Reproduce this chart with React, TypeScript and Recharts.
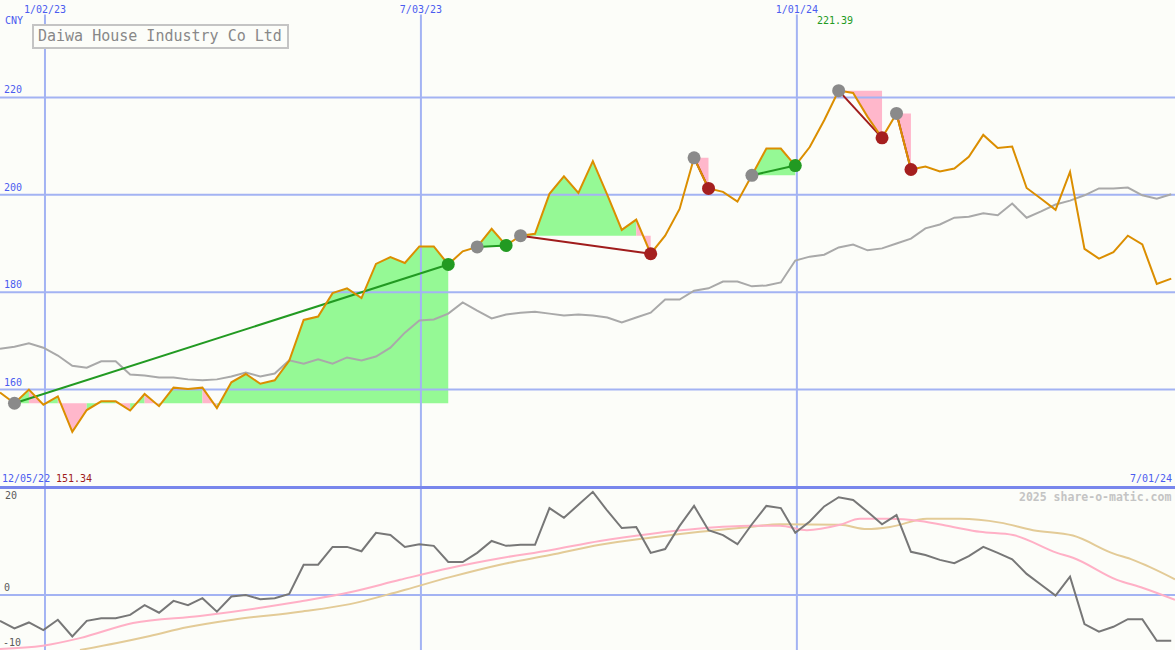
import { Area, ComposedChart, Line, ReferenceLine, XAxis, YAxis } from "recharts";

// weekly closes, index 0 = first week on the chart (w/c 12/05/22)
const price = [
  159.4, 157.2, 160.0, 156.9, 158.6, 151.34, 155.8, 157.6, 157.6, 155.7,
  159.1, 156.6, 160.4, 160.1, 160.4, 156.2, 161.5, 163.2, 161.2, 161.9,
  165.9, 174.3, 175.0, 179.8, 180.8, 178.8, 185.8, 187.2, 186.0, 189.4,
  189.4, 185.7, 188.4, 189.3, 193.0, 189.6, 191.6, 192.0, 200.2, 203.8,
  200.4, 206.9, 200.0, 192.8, 194.9, 187.9, 191.6, 197.1, 207.6, 201.3,
  200.6, 198.6, 204.0, 209.5, 209.5, 206.0, 209.8, 215.3, 221.39, 220.9,
  216.0, 211.7, 216.7, 205.2, 205.8, 204.8, 205.4, 207.8, 212.3, 209.6,
  209.9, 201.4, 199.2, 196.9, 204.7, 188.9, 186.9, 188.2, 191.6, 189.8,
  181.7, 182.8,
];

// slow grey line
const avg = [
  168.4, 168.8, 169.5, 168.6, 167.0, 164.9, 164.5, 165.8, 165.8, 163.1,
  162.9, 162.5, 162.5, 162.1, 161.9, 162.1, 162.7, 163.5, 162.7, 163.3,
  166.0, 165.3, 166.2, 165.3, 166.6, 166.0, 166.8, 168.6, 171.7, 174.2,
  174.4, 175.6, 177.9, 176.2, 174.6, 175.4, 175.8, 176.0, 175.6, 175.2,
  175.4, 175.2, 174.8, 173.8, 174.8, 175.8, 178.5, 178.5, 180.3, 180.8,
  182.2, 182.2, 181.2, 181.4, 182.0, 186.5, 187.3, 187.7, 189.2, 189.8,
  188.6, 189.0, 190.0, 191.0, 193.1, 193.9, 195.3, 195.5, 196.2, 195.8,
  198.2, 195.3, 196.6, 198.0, 198.8, 199.9, 201.3, 201.3, 201.5, 199.9,
  199.2, 200.1,
];

// lower panel oscillator
const osc = [
  -4.8, -6.2, -5.1, -6.5, -4.6, -7.7, -4.8, -4.3, -4.3, -3.7,
  -1.9, -3.3, -1.1, -1.9, -0.6, -3.1, -0.3, 0.0, -0.8, -0.6,
  0.2, 5.6, 5.6, 8.9, 8.9, 8.1, 11.5, 11.1, 8.9, 9.4,
  9.1, 6.1, 6.1, 7.8, 10.0, 9.1, 9.3, 9.3, 16.1, 14.3,
  16.7, 19.1, 15.6, 12.4, 12.6, 7.8, 8.5, 12.8, 16.5, 12.0,
  11.1, 9.4, 13.1, 16.5, 16.1, 11.5, 13.6, 16.4, 18.1, 17.6,
  15.4, 13.1, 14.8, 8.0, 7.4, 6.5, 5.9, 7.2, 8.9, 7.8,
  6.6, 3.9, 1.9, -0.1, 3.4, -5.4, -6.8, -5.9, -4.5, -4.5,
  -8.5, -8.5,
];

// smoothed lines, read at selected weeks
const pinkWeek = [0, 2.97, 5.53, 9.2, 13.83, 18.46, 20.75, 24.2, 27.66, 31.12, 34.58, 38.04, 41.49, 44.95, 48.41, 51.87, 53.94, 55.8, 58.09, 59.47, 61.55, 63.62, 65.91, 67.77, 70.06, 73.1, 74.2, 77.25, 79.05, 81.26];
const pinkVal = [-10.0, -9.4, -8.0, -5.2, -3.9, -2.2, -1.2, 0.5, 2.8, 5.0, 6.8, 8.3, 10.0, 11.3, 12.3, 12.8, 12.8, 12.0, 13.0, 14.1, 14.1, 13.7, 12.6, 11.7, 11.1, 7.8, 6.9, 2.8, 1.3, -0.9];
const tanWeek = [5.53, 8.09, 10.37, 12.93, 16.11, 20.75, 24.2, 27.66, 31.12, 34.58, 38.04, 41.49, 44.95, 48.41, 51.87, 53.94, 58.09, 59.96, 61.55, 64.11, 66.39, 69.16, 71.44, 74.2, 76.97, 78.35, 81.26];
const tanVal = [-10.2, -8.9, -7.6, -6.0, -4.6, -3.1, -1.7, 0.7, 3.3, 5.6, 7.4, 9.3, 10.6, 11.7, 12.6, 13.1, 13.0, 12.2, 12.6, 14.1, 14.1, 13.4, 12.0, 11.0, 7.7, 6.5, 2.9];

// trend swings: start week -> end week
const trendFrom = [1, 33, 36, 48, 52, 58, 62];
const trendTo = [31, 35, 45, 49, 55, 61, 63];

const dateWeek = [3.11, 29.11, 55.11];
const dateLabel = ["1/02/23", "7/03/23", "1/01/24"];
const priceTicks = [160, 180, 200, 220];

const W = 1175;
const TOP_H = 487;
const LOW_H = 163;
const X_DOMAIN: [number, number] = [0, 81.26];
const BG = "#fcfdf9";
const GRID = "#a3b3f3";
const BLUE_TEXT = "#4b5cf0";
const MONO = "'DejaVu Sans Mono', monospace";
const GREEN_FILL = "#95f995";
const PINK_FILL = "#ffb7cb";

const rows = price.map((p, i) => ({ x: i, price: p, avg: avg[i], osc: osc[i] }));
const pinkRows = pinkWeek.map((x, i) => ({ x, v: pinkVal[i] }));
const tanRows = tanWeek.map((x, i) => ({ x, v: tanVal[i] }));

// fill between the price and the level where the swing started;
// each week-to-week piece is green if it ends above that level, pink if below
type Run = { color: string; pts: { x: number; band: [number, number] }[] };
const runs: Run[] = [];
trendFrom.forEach((s, t) => {
  const base = price[s];
  let cur: Run | null = null;
  for (let k = s; k < trendTo[t]; k++) {
    const color = price[k + 1] >= base ? GREEN_FILL : PINK_FILL;
    if (!cur || cur.color !== color) {
      cur = { color, pts: [{ x: k, band: [base, price[k]] }] };
      runs.push(cur);
    }
    cur.pts.push({ x: k + 1, band: [base, price[k + 1]] });
  }
});

const startPts = trendFrom.map(s => ({ x: s, price: price[s] }));
const upEnds = trendTo.filter((e, t) => price[e] >= price[trendFrom[t]]).map(e => ({ x: e, price: price[e] }));
const downEnds = trendTo.filter((e, t) => price[e] < price[trendFrom[t]]).map(e => ({ x: e, price: price[e] }));

const blob = (fill: string) => (p: any) => (
  <circle key={`${fill}-${p.index}`} cx={p.cx} cy={p.cy} r={6.5} fill={fill} stroke="none" />
);

const tickLabel = (value: string, position: string, offset: number, fill = BLUE_TEXT) => ({
  value, position, offset, fill, fontSize: 10, fontFamily: MONO,
});

const txt = (left: number, top: number, color: string, extra: React.CSSProperties = {}): React.CSSProperties => ({
  position: "absolute", left, top, color, fontSize: 10, lineHeight: "10px", fontFamily: MONO, whiteSpace: "pre", ...extra,
});

export default function App() {
  return (
    <div style={{ position: "absolute", left: 0, top: 0, width: W, height: 650, background: BG, overflow: "hidden", fontFamily: MONO }}>
      <div style={{ position: "absolute", left: 0, top: 0 }}>
        <ComposedChart width={W} height={TOP_H} data={rows} margin={{ top: 0, right: 0, bottom: 0, left: 0 }}>
          <XAxis type="number" dataKey="x" domain={X_DOMAIN} hide allowDataOverflow />
          <YAxis domain={[140, 240]} hide allowDataOverflow />
          {dateWeek.map((d, i) => (
            <ReferenceLine key={d} segment={[{ x: d, y: 237 }, { x: d, y: 140 }]} stroke={GRID} strokeWidth={2}
              label={tickLabel(dateLabel[i], "top", 2)} />
          ))}
          {priceTicks.map(v => (
            <ReferenceLine key={v} y={v} stroke={GRID} strokeWidth={2} label={tickLabel(String(v), "insideBottomLeft", 4)} />
          ))}
          {runs.map((r, i) => (
            <Area key={"f" + i} data={r.pts} dataKey="band" type="linear" stroke="none" fill={r.color} fillOpacity={1}
              dot={false} activeDot={false} isAnimationActive={false} />
          ))}
          <Line dataKey="avg" type="linear" stroke="#a9a9a9" strokeWidth={2} dot={false} activeDot={false} isAnimationActive={false} />
          {trendFrom.map((s, t) => {
            const e = trendTo[t];
            const up = price[e] >= price[s];
            return (
              <Line key={"t" + t} data={[{ x: s, price: price[s] }, { x: e, price: price[e] }]} dataKey="price" type="linear"
                stroke={up ? "#229a22" : "#a01c1c"} strokeWidth={2} dot={false} activeDot={false} isAnimationActive={false} />
            );
          })}
          <Line data={startPts} dataKey="price" stroke="none" dot={blob("#8a8a8a")} activeDot={false} isAnimationActive={false} />
          <Line data={upEnds} dataKey="price" stroke="none" dot={blob("#229a22")} activeDot={false} isAnimationActive={false} />
          <Line data={downEnds} dataKey="price" stroke="none" dot={blob("#a51f1f")} activeDot={false} isAnimationActive={false} />
          <Line dataKey="price" type="linear" stroke="#db8e00" strokeWidth={2} dot={false} activeDot={false} isAnimationActive={false} />
        </ComposedChart>
      </div>

      <div style={{ position: "absolute", left: 0, top: TOP_H }}>
        <ComposedChart width={W} height={LOW_H} data={rows} margin={{ top: 0, right: 0, bottom: 0, left: 0 }}>
          <XAxis type="number" dataKey="x" domain={X_DOMAIN} hide allowDataOverflow />
          <YAxis domain={[-10.2, 20]} hide allowDataOverflow />
          {dateWeek.map(d => (
            <ReferenceLine key={d} x={d} stroke={GRID} strokeWidth={2} />
          ))}
          <ReferenceLine y={20} stroke="none" label={tickLabel("20", "insideTopLeft", 5, "#5a5a5a")} />
          <ReferenceLine y={0} stroke={GRID} strokeWidth={2} label={tickLabel("0", "insideBottomLeft", 4, "#5a5a5a")} />
          <ReferenceLine y={-10} stroke="none" label={tickLabel("-10", "insideBottomLeft", 3, "#5a5a5a")} />
          <Line data={tanRows} dataKey="v" type="monotone" stroke="#e3cb97" strokeWidth={2} dot={false} activeDot={false} isAnimationActive={false} />
          <Line data={pinkRows} dataKey="v" type="monotone" stroke="#ffb0c6" strokeWidth={2} dot={false} activeDot={false} isAnimationActive={false} />
          <Line dataKey="osc" type="linear" stroke="#777777" strokeWidth={2} dot={false} activeDot={false} isAnimationActive={false} />
        </ComposedChart>
      </div>

      <div style={{ position: "absolute", left: 0, top: 486, width: W, height: 3, background: "#7886ec" }} />

      <div style={{
        position: "absolute", left: 32, top: 24, width: 257, height: 25, boxSizing: "border-box",
        border: "2px solid #c4c4c4", background: BG, color: "#888888", fontSize: 15, lineHeight: "21px",
        paddingLeft: 4, fontFamily: MONO, whiteSpace: "pre",
      }}>Daiwa House Industry Co Ltd</div>

      <div style={txt(5, 16, BLUE_TEXT)}>CNY</div>
      <div style={txt(817, 16, "#229a22")}>221.39</div>
      <div style={txt(2, 474, BLUE_TEXT)}>12/05/22</div>
      <div style={txt(56, 474, "#a01c1c")}>151.34</div>
      <div style={txt(1130, 474, BLUE_TEXT)}>7/01/24</div>
      <div style={txt(1019, 491, "#c4c4c4", { fontSize: 11.5, fontWeight: "bold", lineHeight: "12px" })}>2025 share-o-matic.com</div>
    </div>
  );
}
